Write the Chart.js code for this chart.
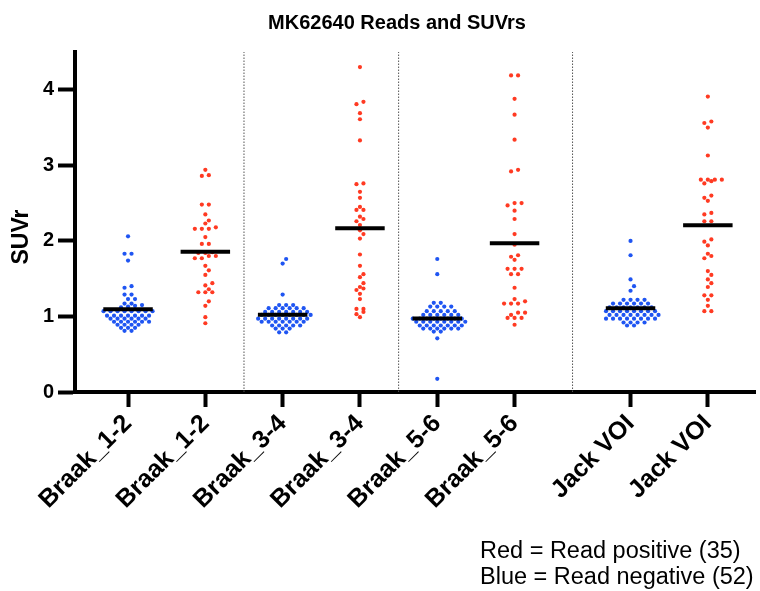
<!DOCTYPE html>
<html>
<head>
<meta charset="utf-8">
<script src="https://cdn.jsdelivr.net/npm/chart.js@4"></script>
<style>
  html, body { margin: 0; padding: 0; background: #fff; }
  #wrap { width: 760px; height: 591px; }
</style>
</head>
<body>
<div id="wrap"><canvas id="chart"></canvas></div>
<script>
// --- Data (SUVr per subject) ---
const categories = ['Braak_1-2', 'Braak_1-2', 'Braak_3-4', 'Braak_3-4', 'Braak_5-6', 'Braak_5-6', 'Jack VOI', 'Jack VOI'];
const groupPos = [1, 2, 3, 4, 5, 6, 7.5, 8.5];
const dividers = [2.5, 4.5, 6.75];
const yTicks = [0, 1, 2, 3, 4];

const negBraak12 = [2.06, 1.83, 1.83, 1.74, 1.40, 1.38, 1.29, 1.29, 1.23, 1.23, 1.17, 1.17, 1.15, 1.14, 1.13, 1.12,
    1.07, 1.07, 1.07, 1.07, 1.07, 1.07, 1.07, 1.07,
    1.01, 1.01, 1.01, 1.01, 1.01, 1.01, 1.01,
    0.97, 0.97, 0.97, 0.97, 0.97, 0.97,
    0.93, 0.93, 0.93, 0.93, 0.93, 0.93,
    0.89, 0.89, 0.89, 0.89,
    0.85, 0.85, 0.85,
    0.81, 0.81];
const posBraak12 = [2.94, 2.87, 2.86, 2.48, 2.48, 2.35, 2.27, 2.23, 2.18, 2.16, 2.16, 2.16, 2.05, 1.96, 1.96,
    1.85, 1.84, 1.84, 1.80, 1.80, 1.77, 1.77, 1.67, 1.61, 1.55, 1.44, 1.41, 1.36, 1.32, 1.32, 1.32,
    1.20, 1.14, 0.99, 0.91];
const negBraak34 = [1.76, 1.70, 1.29,
    1.15, 1.15, 1.15,
    1.11, 1.11, 1.11, 1.11, 1.11, 1.11,
    1.06, 1.06, 1.06, 1.06, 1.06, 1.06, 1.06,
    1.02, 1.02, 1.02, 1.02, 1.02, 1.02, 1.02, 1.02,
    0.97, 0.97, 0.97, 0.97, 0.97, 0.97, 0.97, 0.97,
    0.93, 0.93, 0.93, 0.93, 0.93, 0.93, 0.93,
    0.88, 0.88, 0.88, 0.88, 0.88,
    0.84, 0.84, 0.84,
    0.79, 0.79];
const posBraak34 = [4.30, 3.84, 3.81, 3.69, 3.61, 3.33, 2.76, 2.75, 2.65, 2.57, 2.45, 2.41, 2.41, 2.32, 2.29,
    2.26, 2.21, 2.14, 2.09, 2.03, 1.82, 1.67, 1.56, 1.52, 1.44, 1.39, 1.37, 1.35, 1.30, 1.23,
    1.10, 1.10, 1.06, 1.03, 0.99];
const negBraak56 = [1.76, 1.56, 0.71, 0.175,
    1.18, 1.18,
    1.13, 1.13, 1.13, 1.13,
    1.07, 1.07, 1.07, 1.07, 1.07,
    1.02, 1.02, 1.02, 1.02, 1.02, 1.02,
    0.97, 0.97, 0.97, 0.97, 0.97, 0.97, 0.97, 0.97,
    0.93, 0.93, 0.93, 0.93, 0.93, 0.93, 0.93, 0.93,
    0.88, 0.88, 0.88, 0.88, 0.88, 0.88, 0.88,
    0.84, 0.84, 0.84, 0.84, 0.84, 0.84,
    0.80, 0.80];
const posBraak56 = [4.19, 4.19, 3.88, 3.67, 3.34, 2.94, 2.92, 2.50, 2.50, 2.47, 2.40, 2.29, 2.09, 1.95,
    1.81, 1.79, 1.75, 1.63, 1.63, 1.63, 1.56, 1.56, 1.38, 1.23, 1.20, 1.17, 1.17, 1.17,
    1.05, 1.05, 1.02, 0.98, 0.98, 0.98, 0.89];
const negJack = [2.00, 1.81, 1.49, 1.40, 1.34,
    1.22, 1.22, 1.22, 1.22,
    1.17, 1.17, 1.17, 1.17, 1.17, 1.17,
    1.12, 1.12, 1.12, 1.12, 1.12, 1.12, 1.12,
    1.07, 1.07, 1.07, 1.07, 1.07, 1.07, 1.07, 1.07,
    1.02, 1.02, 1.02, 1.02, 1.02, 1.02, 1.02, 1.02,
    0.97, 0.97, 0.97, 0.97, 0.97, 0.97, 0.97, 0.97,
    0.92, 0.92, 0.92, 0.92,
    0.88, 0.88];
const posJack = [3.91, 3.58, 3.56, 3.50, 3.13, 2.81, 2.81, 2.81, 2.81, 2.79, 2.76, 2.60, 2.57, 2.53,
    2.37, 2.35, 2.26, 2.26, 2.02, 1.99, 1.94, 1.83, 1.80, 1.77, 1.60, 1.55, 1.49, 1.44, 1.39,
    1.28, 1.28, 1.22, 1.14, 1.07, 1.07];

const groups = [negBraak12, posBraak12, negBraak34, posBraak34, negBraak56, posBraak56, negJack, posJack];

const BLUE = '#1f55f2';
const RED = '#ff3a22';
const FONT = '"Liberation Sans", Arial, sans-serif';
const Y_MAX = 4.5;
const MEAN_HALF = 0.32; // half width of mean bar, x units
const DOT_STEP = 7;     // px between dots sharing a row
const ROW_H = 2.6;      // px: values closer than this share a row
const ROW_NEAR = 5;     // px: rows closer than this get staggered

function mean(arr) {
    return arr.reduce((a, b) => a + b, 0) / arr.length;
}

// --- Datasets ---
const datasets = [];

groups.forEach((vals, i) => {
    datasets.push({
        data: vals.map((v) => ({ x: groupPos[i], y: v })),
        backgroundColor: i % 2 === 0 ? BLUE : RED,
        pointRadius: 2.1,
        pointHoverRadius: 2.1,
        borderWidth: 0,
        order: 2,
    });
});

groups.forEach((vals, i) => {
    const m = mean(vals);
    datasets.push({
        data: [{ x: groupPos[i] - MEAN_HALF, y: m }, { x: groupPos[i] + MEAN_HALF, y: m }],
        showLine: true,
        borderColor: '#000',
        borderWidth: 4,
        pointRadius: 0,
        order: 1,
    });
});

dividers.forEach((d) => {
    datasets.push({
        data: [{ x: d, y: 0 }, { x: d, y: Y_MAX }],
        showLine: true,
        borderColor: '#555',
        borderWidth: 1,
        borderDash: [1.5, 1.5],
        pointRadius: 0,
        order: 3,
    });
});

// --- Text drawn around the plot ---
const textPlugin = {
    id: 'texts',
    afterDraw(chart) {
        const ctx = chart.ctx;
        ctx.save();
        ctx.fillStyle = '#000';

        ctx.font = 'bold 20px ' + FONT;
        ctx.textAlign = 'center';
        ctx.textBaseline = 'alphabetic';
        ctx.fillText('MK62640 Reads and SUVrs', 397, 29);

        ctx.save();
        ctx.translate(22, 237);
        ctx.rotate(-Math.PI / 2);
        ctx.font = 'bold 23px ' + FONT;
        ctx.textBaseline = 'middle';
        ctx.fillText('SUVr', 0, 0);
        ctx.restore();

        ctx.font = '23.5px ' + FONT;
        ctx.textAlign = 'left';
        ctx.fillText('Red = Read positive (35)', 480, 558);
        ctx.fillText('Blue = Read negative (52)', 480, 584);
        ctx.restore();
    },
};

const chart = new Chart(document.getElementById('chart'), {
    type: 'scatter',
    data: { datasets },
    options: {
        responsive: true,
        maintainAspectRatio: false,
        animation: false,
        devicePixelRatio: 1,
        layout: { padding: { top: 52, right: 5, left: 0, bottom: 0 } },
        plugins: {
            legend: { display: false },
            tooltip: { enabled: false },
        },
        scales: {
            x: {
                type: 'linear',
                min: 0.314,
                max: 9.11,
                afterBuildTicks: (s) => { s.ticks = groupPos.map((v) => ({ value: v })); },
                afterFit: (s) => { s.height = 199; },
                ticks: {
                    autoSkip: false,
                    minRotation: 45,
                    maxRotation: 45,
                    color: '#000',
                    padding: 2,
                    font: { family: FONT, size: 25, weight: 'bold' },
                    callback: (v, i) => categories[i],
                },
                grid: {
                    drawOnChartArea: false,
                    drawTicks: true,
                    tickLength: 15,
                    tickWidth: 4,
                    tickColor: '#000',
                },
                border: { color: '#000', width: 4 },
            },
            y: {
                min: 0,
                max: Y_MAX,
                afterBuildTicks: (s) => { s.ticks = yTicks.map((v) => ({ value: v })); },
                afterFit: (s) => { s.width = 75; },
                ticks: {
                    color: '#000',
                    padding: 4,
                    font: { family: FONT, size: 20, weight: 'bold' },
                },
                grid: {
                    drawOnChartArea: false,
                    drawTicks: true,
                    tickLength: 17,
                    tickWidth: 4,
                    tickColor: '#000',
                },
                border: { color: '#000', width: 4 },
            },
        },
    },
    plugins: [textPlugin],
});

// --- Dot-plot layout: values in the same row sit side by side, centred ---
function swarmOffsets(values, pxPerX, pxPerY) {
    const order = values.map((v, i) => i).sort((a, b) => values[a] - values[b]);
    const rows = [];
    order.forEach((i) => {
        const y = values[i] * pxPerY;
        const row = rows[rows.length - 1];
        if (row && y - row.y0 < ROW_H) row.idx.push(i);
        else rows.push({ y0: y, idx: [i] });
    });
    const out = new Array(values.length);
    let prev = null;
    rows.forEach((row) => {
        const n = row.idx.length;
        let phase = n % 2 === 0 ? 0.5 : 0;
        let shift = 0;
        if (prev && row.y0 - prev.y0 < ROW_NEAR && prev.phase === phase) {
            shift = 0.5;
            phase = (phase + 0.5) % 1;
        }
        row.idx.forEach((i, k) => {
            out[i] = ((k - (n - 1) / 2 + shift) * DOT_STEP) / pxPerX;
        });
        prev = { y0: row.y0, phase };
    });
    return out;
}

const xs = chart.scales.x;
const ys = chart.scales.y;
const pxPerX = xs.getPixelForValue(1) - xs.getPixelForValue(0);
const pxPerY = ys.getPixelForValue(0) - ys.getPixelForValue(1);

groups.forEach((vals, i) => {
    const offs = swarmOffsets(vals, pxPerX, pxPerY);
    chart.data.datasets[i].data = vals.map((v, k) => ({ x: groupPos[i] + offs[k], y: v }));
});
chart.update('none');
</script>
</body>
</html>
